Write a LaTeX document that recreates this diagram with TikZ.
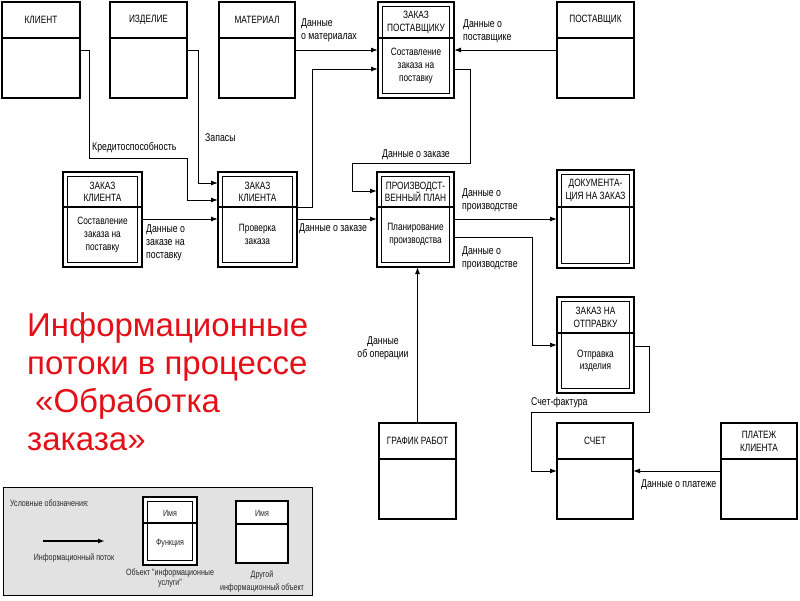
\documentclass[tikz,border=0pt]{standalone}
\usepackage{fontspec}
\setmainfont{Liberation Sans}
\newfontfamily\cond[FakeStretch=0.78]{Liberation Sans}
\usetikzlibrary{arrows.meta,calc}
\definecolor{titlered}{RGB}{228,16,24}
\definecolor{leggray}{RGB}{226,226,226}
\tikzset{
 boxo/.style={draw, line width=1.1pt, inner sep=0pt, outer sep=0pt, anchor=north west, fill=white},
 divl/.style={line width=2.6pt},
 inbox/.style={line width=1pt},
 ttl/.style={font=\cond\fontsize{10.6}{12.8}\selectfont, align=center, inner sep=0pt},
 lbl/.style={font=\cond\fontsize{11.2}{13}\selectfont, align=left, inner sep=0pt},
 legtxt/.style={font=\cond\fontsize{9.1}{10}\selectfont, align=center, inner sep=0pt, text=black!85},
 flow/.style={line width=1pt, -{Latex[length=7pt,width=5pt]}}
}
\newcommand\mkbox[7]{%
 \node[boxo, minimum width=#4pt, minimum height=#5pt] (#1) at (#2,#3) {};
 \draw[divl] ($(#1.north west)+(0,#6)$) -- ($(#1.north east)+(0,#6)$);
 \node[ttl] (#1-t) at ($(#1.north)+(0,{#6/2})$) {#7};
}
\newcommand\mkdbox[8]{%
 \node[boxo, minimum width=#4pt, minimum height=#5pt] (#1) at (#2,#3) {};
 \draw[inbox] ($(#1.north west)+(4.5,4.5)$) rectangle ($(#1.south east)+(-4.5,-4.5)$);
 \draw[divl] ($(#1.north west)+(0,#6)$) -- ($(#1.north east)+(0,#6)$);
 \node[ttl] (#1-t) at ($(#1.north)+(0,{(#6+4.5)/2})$) {#7};
 \node[ttl] (#1-f) at ($(#1.north)+(0,{#6+(#5-#6-4.5)/2})$) {#8};
}
\begin{document}
\begin{tikzpicture}[x=1pt,y=-1pt]
\useasboundingbox (0,0) rectangle (800,600);
\fill[white] (0,0) rectangle (800,600);
% boxes
\mkbox{klient}{2}{2}{78}{96}{36}{КЛИЕНТ}
\mkbox{izd}{110}{2}{77}{96}{36}{ИЗДЕЛИЕ}
\mkbox{mat}{219}{2}{76}{96}{36}{МАТЕРИАЛ}
\mkdbox{zp}{378}{2}{76}{96}{36}{ЗАКАЗ\\ПОСТАВЩИКУ}{Составление\\заказа на\\поставку}
\mkbox{post}{557}{2}{77}{96}{36}{ПОСТАВЩИК}
\mkdbox{zk1}{63}{172}{79}{95}{35}{ЗАКАЗ\\КЛИЕНТА}{Составление\\заказа на\\поставку}
\mkdbox{zk2}{218}{172}{79}{95}{35}{ЗАКАЗ\\КЛИЕНТА}{Проверка\\заказа}
\mkdbox{pp}{377}{172}{77}{95}{35}{ПРОИЗВОДСТ-\\ВЕННЫЙ ПЛАН}{Планирование\\производства}
\mkdbox{doc}{557}{170}{77}{98}{37}{ДОКУМЕНТА-\\ЦИЯ НА ЗАКАЗ}{}
\mkdbox{zno}{557}{297}{77}{96}{36}{ЗАКАЗ НА\\ОТПРАВКУ}{Отправка\\изделия}
\mkbox{graf}{379}{423}{77}{96}{36}{ГРАФИК РАБОТ}
\mkbox{schet}{557}{423}{76}{96}{36}{СЧЕТ}
\mkbox{plat}{721}{423}{76}{96}{36}{ПЛАТЕЖ\\КЛИЕНТА}
% connectors
\draw[flow] ($(klient.north east)+(0,48)$) -| (89,158) -| (187,200) -- ($(zk2.north west)+(0,28)$);
\node[lbl, anchor=west] (l1) at (92,148) {Кредитоспособность};
\draw[flow] ($(izd.north east)+(0,48)$) -| (198,183) -- ($(zk2.north west)+(0,11)$);
\node[lbl, anchor=west] (l2) at (205,138) {Запасы};
\draw[flow] ($(mat.north east)+(0,48)$) -- ($(zp.north west)+(0,48)$);
\node[lbl, anchor=west] (l3) at (301,30) {Данные\\о материалах};
\draw[flow] ($(zk2.north east)+(0,35)$) -| (312,69) -- ($(zp.north west)+(0,67)$);
\draw[flow] ($(post.north west)+(0,48)$) -- ($(zp.north east)+(0,48)$);
\node[lbl, anchor=west] (l4) at (463,31) {Данные о\\поставщике};
\draw[flow] ($(zp.north east)+(0,67)$) -| (470,163) -| (352,191) -- ($(pp.north west)+(0,19)$);
\node[lbl] (l5) at (416,155) {Данные о заказе};
\draw[flow] ($(zk1.north east)+(0,47)$) -- ($(zk2.north west)+(0,47)$);
\node[lbl, anchor=west] (l6) at (146,243) {Данные о\\заказе на\\поставку};
\draw[flow] ($(zk2.north east)+(0,47)$) -- ($(pp.north west)+(0,47)$);
\node[lbl, anchor=west] (l7) at (299,229) {Данные о заказе};
\draw[flow] ($(pp.north east)+(0,47)$) -- ($(doc.north west)+(0,49)$);
\node[lbl, anchor=west] (l8) at (462,200) {Данные о\\производстве};
\draw[flow] ($(pp.north east)+(0,65)$) -| (532,345) -- ($(zno.north west)+(0,48)$);
\node[lbl, anchor=west] (l9) at (462,258) {Данные о\\производстве};
\draw[flow] (graf.north) -- (graf.north |- pp.south);
\node[lbl, align=center] (l10) at (383,348) {Данные\\об операции};
\draw[flow] ($(zno.north east)+(0,49)$) -| (649,412) -| (531,471) -- ($(schet.north west)+(0,48)$);
\node[lbl, anchor=west] (l11) at (531,403) {Счет-фактура};
\draw[flow] ($(plat.north west)+(0,48)$) -- ($(schet.north east)+(0,48)$);
\node[lbl, anchor=west] (l12) at (641,485) {Данные о платеже};
% title
\node[anchor=north west, inner sep=0pt, align=left, text=titlered, font=\fontsize{33}{38}\selectfont] (title) at (27,312)
 {Информационные\\потоки в процессе\\\hspace*{8pt}«Обработка\\заказа»};
% legend
\node[draw, line width=1pt, fill=leggray, anchor=north west, inner sep=0pt, minimum width=309pt, minimum height=108pt] (leg) at (3,487) {};
\node[legtxt, anchor=west] (legh) at (10,503) {Условные обозначения:};
\coordinate (la) at (43,541);
\coordinate (lb) at (105,541);
\draw[line width=1.4pt, -{Latex[length=7pt,width=5pt]}] (la) -- (lb);
\node[legtxt] (legf) at (74,558) {Информационный поток};
\node[boxo, minimum width=54pt, minimum height=68pt] (lg1) at (143,497) {};
\draw[inbox] ($(lg1.north west)+(4.5,4.5)$) rectangle ($(lg1.south east)+(-4.5,-4.5)$);
\draw[divl, line width=2pt] ($(lg1.north west)+(0,26)$) -- ($(lg1.north east)+(0,26)$);
\node[legtxt] (lg1t) at (170,513) {Имя};
\node[legtxt] (lg1f) at (170,543) {Функция};
\node[legtxt] (lg1c) at (170,578) {Объект "информационные\\услуги"};
\node[boxo, minimum width=52pt, minimum height=62pt] (lg2) at (236,501) {};
\draw[divl, line width=2pt] ($(lg2.north west)+(0,23)$) -- ($(lg2.north east)+(0,23)$);
\node[legtxt] (lg2t) at (262,513) {Имя};
\node[legtxt, font=\cond\fontsize{9.1}{13}\selectfont] (lg2c) at (262,582) {Другой\\информационный объект};
\end{tikzpicture}
\end{document}
